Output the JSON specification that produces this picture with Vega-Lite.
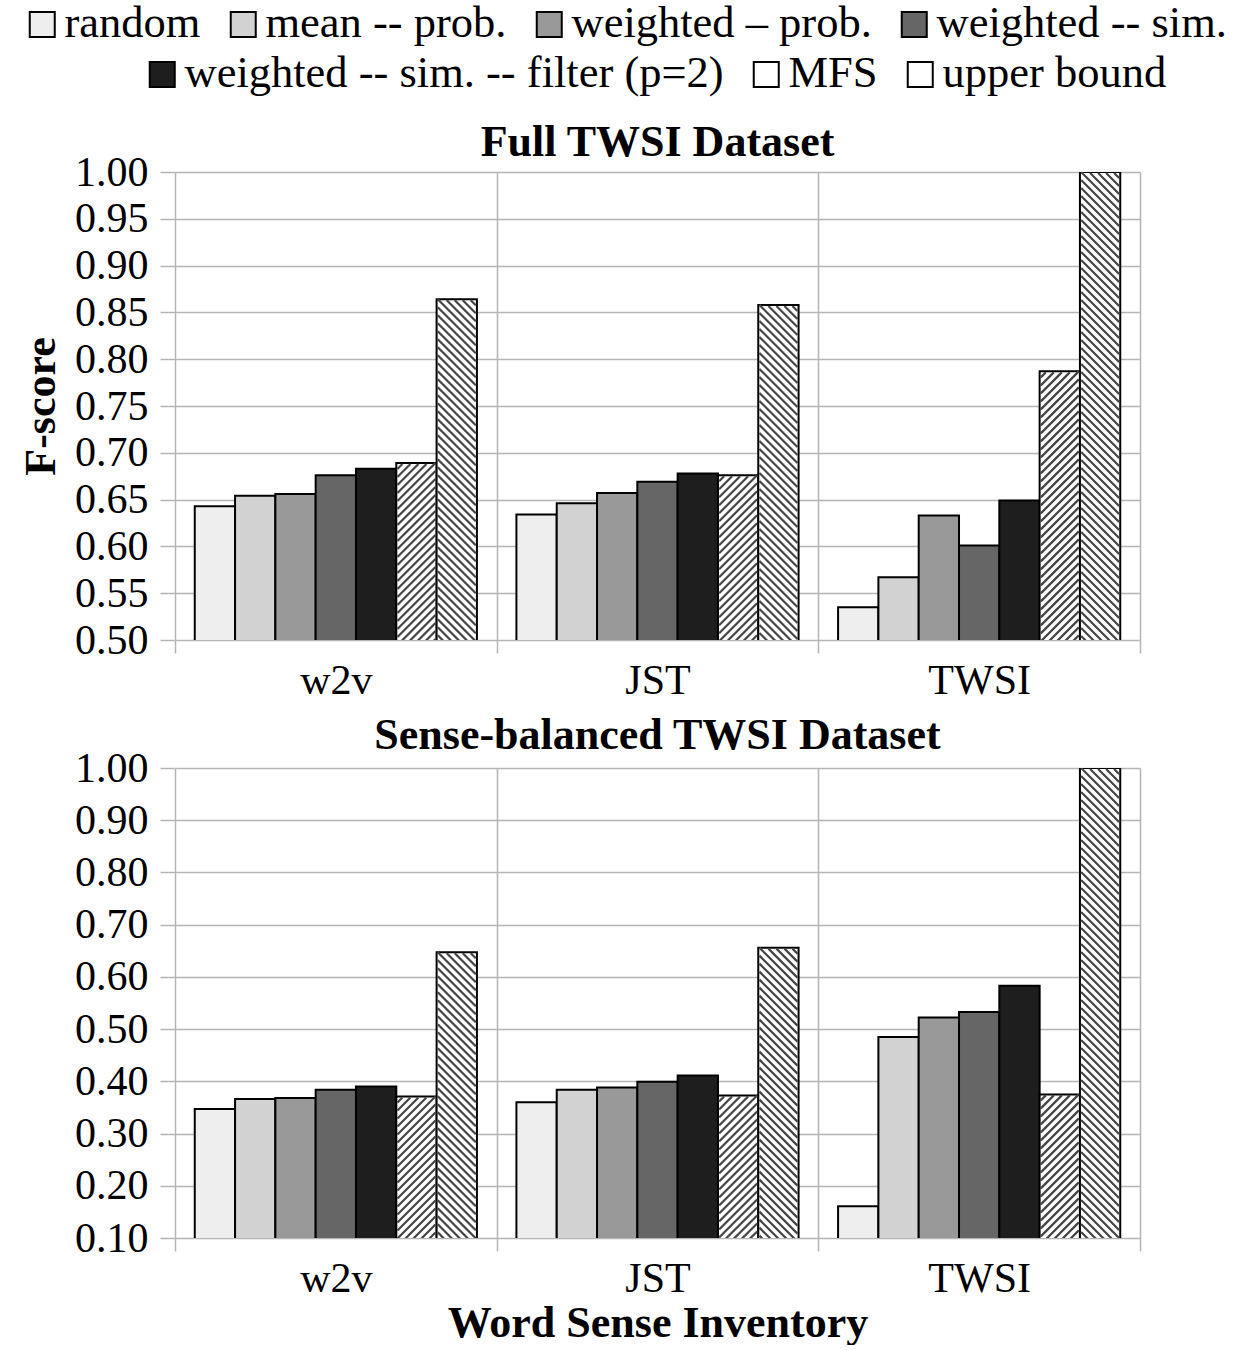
{
  "$schema": "https://vega.github.io/schema/vega-lite/v6.json",
  "background": "white",
  "padding": {"left": 19, "top": 2, "right": 10, "bottom": 0},
  "spacing": 13,
  "resolve": {"scale": {"xOffset": "independent"}},
  "data": {
    "values": [
      {"dataset": "Full", "inventory": "w2v", "series": "random", "fscore": 0.643},
      {"dataset": "Full", "inventory": "w2v", "series": "mean -- prob.", "fscore": 0.654},
      {"dataset": "Full", "inventory": "w2v", "series": "weighted – prob.", "fscore": 0.656},
      {"dataset": "Full", "inventory": "w2v", "series": "weighted -- sim.", "fscore": 0.676},
      {"dataset": "Full", "inventory": "w2v", "series": "weighted -- sim. -- filter (p=2)", "fscore": 0.683},
      {"dataset": "Full", "inventory": "w2v", "series": "MFS", "fscore": 0.689},
      {"dataset": "Full", "inventory": "w2v", "series": "upper bound", "fscore": 0.864},
      {"dataset": "Full", "inventory": "JST", "series": "random", "fscore": 0.634},
      {"dataset": "Full", "inventory": "JST", "series": "mean -- prob.", "fscore": 0.646},
      {"dataset": "Full", "inventory": "JST", "series": "weighted – prob.", "fscore": 0.657},
      {"dataset": "Full", "inventory": "JST", "series": "weighted -- sim.", "fscore": 0.669},
      {"dataset": "Full", "inventory": "JST", "series": "weighted -- sim. -- filter (p=2)", "fscore": 0.678},
      {"dataset": "Full", "inventory": "JST", "series": "MFS", "fscore": 0.676},
      {"dataset": "Full", "inventory": "JST", "series": "upper bound", "fscore": 0.858},
      {"dataset": "Full", "inventory": "TWSI", "series": "random", "fscore": 0.535},
      {"dataset": "Full", "inventory": "TWSI", "series": "mean -- prob.", "fscore": 0.567},
      {"dataset": "Full", "inventory": "TWSI", "series": "weighted – prob.", "fscore": 0.633},
      {"dataset": "Full", "inventory": "TWSI", "series": "weighted -- sim.", "fscore": 0.601},
      {"dataset": "Full", "inventory": "TWSI", "series": "weighted -- sim. -- filter (p=2)", "fscore": 0.649},
      {"dataset": "Full", "inventory": "TWSI", "series": "MFS", "fscore": 0.787},
      {"dataset": "Full", "inventory": "TWSI", "series": "upper bound", "fscore": 1.0},
      {"dataset": "Balanced", "inventory": "w2v", "series": "random", "fscore": 0.347},
      {"dataset": "Balanced", "inventory": "w2v", "series": "mean -- prob.", "fscore": 0.366},
      {"dataset": "Balanced", "inventory": "w2v", "series": "weighted – prob.", "fscore": 0.368},
      {"dataset": "Balanced", "inventory": "w2v", "series": "weighted -- sim.", "fscore": 0.384},
      {"dataset": "Balanced", "inventory": "w2v", "series": "weighted -- sim. -- filter (p=2)", "fscore": 0.39},
      {"dataset": "Balanced", "inventory": "w2v", "series": "MFS", "fscore": 0.371},
      {"dataset": "Balanced", "inventory": "w2v", "series": "upper bound", "fscore": 0.647},
      {"dataset": "Balanced", "inventory": "JST", "series": "random", "fscore": 0.36},
      {"dataset": "Balanced", "inventory": "JST", "series": "mean -- prob.", "fscore": 0.384},
      {"dataset": "Balanced", "inventory": "JST", "series": "weighted – prob.", "fscore": 0.388},
      {"dataset": "Balanced", "inventory": "JST", "series": "weighted -- sim.", "fscore": 0.399},
      {"dataset": "Balanced", "inventory": "JST", "series": "weighted -- sim. -- filter (p=2)", "fscore": 0.411},
      {"dataset": "Balanced", "inventory": "JST", "series": "MFS", "fscore": 0.373},
      {"dataset": "Balanced", "inventory": "JST", "series": "upper bound", "fscore": 0.656},
      {"dataset": "Balanced", "inventory": "TWSI", "series": "random", "fscore": 0.161},
      {"dataset": "Balanced", "inventory": "TWSI", "series": "mean -- prob.", "fscore": 0.485},
      {"dataset": "Balanced", "inventory": "TWSI", "series": "weighted – prob.", "fscore": 0.522},
      {"dataset": "Balanced", "inventory": "TWSI", "series": "weighted -- sim.", "fscore": 0.533},
      {"dataset": "Balanced", "inventory": "TWSI", "series": "weighted -- sim. -- filter (p=2)", "fscore": 0.583},
      {"dataset": "Balanced", "inventory": "TWSI", "series": "MFS", "fscore": 0.375},
      {"dataset": "Balanced", "inventory": "TWSI", "series": "upper bound", "fscore": 1.0}
    ]
  },
  "config": {
    "font": "Liberation Serif",
    "view": {"stroke": null},
    "axis": {
      "labelFont": "Liberation Serif", "labelFontSize": 42, "labelColor": "black",
      "gridColor": "#b5b5b5", "gridWidth": 1.5, "tickColor": "#b5b5b5", "tickWidth": 1.5,
      "domain": false,
      "titleFont": "Liberation Serif", "titleFontSize": 44, "titleFontWeight": "bold", "titleColor": "black"
    },
    "title": {"font": "Liberation Serif", "fontSize": 44, "fontWeight": "bold", "color": "black", "frame": "group", "baseline": "alphabetic"}
  },
  "vconcat": [
    {
      "title": {"text": "Full TWSI Dataset", "offset": -14},
      "width": 965,
      "height": 468,
      "transform": [{"filter": "datum.dataset === 'Full'"}],
      "encoding": {
        "x": {"field": "inventory", "type": "nominal",
          "scale": {"domain": ["w2v", "JST", "TWSI"], "paddingInner": 0, "paddingOuter": 0},
          "axis": {"title": null, "labelAngle": 0, "grid": true, "tickBand": "extent", "tickSize": 13, "labelPadding": 7}},
        "xOffset": {"field": "series", "type": "nominal",
          "scale": {"domain": ["random", "mean -- prob.", "weighted – prob.", "weighted -- sim.", "weighted -- sim. -- filter (p=2)", "MFS", "upper bound"], "paddingInner": 0, "paddingOuter": 0.49}},
        "y": {"field": "fscore", "type": "quantitative",
          "scale": {"domain": [0.5, 1.0], "zero": false, "nice": false},
          "axis": {"title": "F-score", "values": [0.5, 0.55, 0.6, 0.65, 0.7, 0.75, 0.8, 0.85, 0.9, 0.95, 1.0], "format": ".2f", "tickSize": 15, "labelPadding": 12, "titlePadding": 11}}
      },
      "layer": [
        {
          "transform": [{"filter": {"field": "series", "oneOf": ["random", "mean -- prob.", "weighted – prob.", "weighted -- sim."]}}],
          "mark": {"type": "bar", "stroke": "black", "strokeWidth": 2, "clip": true},
          "encoding": {
            "color": {"field": "series", "type": "nominal",
              "scale": {"domain": ["random", "mean -- prob.", "weighted – prob.", "weighted -- sim."], "range": ["#eeeeee", "#d2d2d2", "#999999", "#666666"]},
              "legend": {"title": null, "orient": "none", "legendX": -155, "legendY": -170, "direction": "horizontal", "symbolType": "square", "symbolSize": 625, "symbolStrokeColor": "black", "symbolStrokeWidth": 2, "labelFont": "Liberation Serif", "labelFontSize": 44.5, "labelColor": "black", "labelLimit": 1500, "columnPadding": 20, "labelOffset": 0}}
          }
        },
        {
          "transform": [{"filter": {"field": "series", "oneOf": ["weighted -- sim. -- filter (p=2)", "MFS", "upper bound"]}}],
          "mark": {"type": "bar", "stroke": "black", "strokeWidth": 2, "clip": true},
          "encoding": {
            "fill": {"field": "series", "type": "nominal",
              "scale": {"domain": ["weighted -- sim. -- filter (p=2)", "MFS", "upper bound"], "range": ["#1e1e1e", "#ffffff", "#ffffff"]},
              "legend": {"title": null, "orient": "none", "legendX": -35, "legendY": -120, "direction": "horizontal", "symbolType": "square", "symbolSize": 625, "symbolStrokeColor": "black", "symbolStrokeWidth": 2, "labelFont": "Liberation Serif", "labelFontSize": 44.5, "labelColor": "black", "labelLimit": 1500, "columnPadding": 20, "labelOffset": 0}}
          }
        },
        {
          "transform": [{"filter": "datum.series === 'MFS'"}],
          "mark": {"type": "point", "shape": "M-19,6L-14,1M-19,14L-6,1M-19,22L2,1M-19,30L10,1M-19,38l38,-38m-38,46l38,-38m-38,46l38,-38m-38,46l38,-38m-38,46l38,-38m-38,46l38,-38m-38,46l38,-38m-38,46l38,-38m-38,46l38,-38m-38,46l38,-38m-38,46l38,-38m-38,46l38,-38m-38,46l38,-38m-38,46l38,-38m-38,46l38,-38m-38,46l38,-38m-38,46l38,-38m-38,46l38,-38m-38,46l38,-38m-38,46l38,-38m-38,46l38,-38m-38,46l38,-38m-38,46l38,-38m-38,46l38,-38m-38,46l38,-38m-38,46l38,-38m-38,46l38,-38m-38,46l38,-38m-38,46l38,-38m-38,46l38,-38m-38,46l38,-38m-38,46l38,-38m-38,46l38,-38m-38,46l38,-38m-38,46l38,-38m-38,46l38,-38m-38,46l38,-38m-38,46l38,-38m-38,46l38,-38m-38,46l38,-38m-38,46l38,-38m-38,46l38,-38m-38,46l38,-38m-38,46l38,-38m-38,46l38,-38m-38,46l38,-38m-38,46l38,-38m-38,46l38,-38m-38,46l38,-38m-38,46l38,-38m-38,46l38,-38m-38,46l38,-38m-38,46l38,-38m-38,46l38,-38m-38,46l38,-38m-38,46l38,-38m-38,46l38,-38m-38,46l38,-38m-38,46l38,-38m-38,46l38,-38m-38,46l38,-38", "size": 4, "filled": false, "stroke": "#454545", "strokeWidth": 2.2, "opacity": 1, "clip": true}
        },
        {
          "transform": [{"filter": "datum.series === 'upper bound'"}],
          "mark": {"type": "point", "shape": "M19,6L14,1M19,14L6,1M19,22L-2,1M19,30L-10,1M19,38l-38,-38m38,46l-38,-38m38,46l-38,-38m38,46l-38,-38m38,46l-38,-38m38,46l-38,-38m38,46l-38,-38m38,46l-38,-38m38,46l-38,-38m38,46l-38,-38m38,46l-38,-38m38,46l-38,-38m38,46l-38,-38m38,46l-38,-38m38,46l-38,-38m38,46l-38,-38m38,46l-38,-38m38,46l-38,-38m38,46l-38,-38m38,46l-38,-38m38,46l-38,-38m38,46l-38,-38m38,46l-38,-38m38,46l-38,-38m38,46l-38,-38m38,46l-38,-38m38,46l-38,-38m38,46l-38,-38m38,46l-38,-38m38,46l-38,-38m38,46l-38,-38m38,46l-38,-38m38,46l-38,-38m38,46l-38,-38m38,46l-38,-38m38,46l-38,-38m38,46l-38,-38m38,46l-38,-38m38,46l-38,-38m38,46l-38,-38m38,46l-38,-38m38,46l-38,-38m38,46l-38,-38m38,46l-38,-38m38,46l-38,-38m38,46l-38,-38m38,46l-38,-38m38,46l-38,-38m38,46l-38,-38m38,46l-38,-38m38,46l-38,-38m38,46l-38,-38m38,46l-38,-38m38,46l-38,-38m38,46l-38,-38m38,46l-38,-38m38,46l-38,-38m38,46l-38,-38m38,46l-38,-38m38,46l-38,-38m38,46l-38,-38m38,46l-38,-38", "size": 4, "filled": false, "stroke": "#454545", "strokeWidth": 2.2, "opacity": 1, "clip": true}
        }
      ]
    },
    {
      "title": {"text": "Sense-balanced TWSI Dataset", "offset": -11},
      "width": 965,
      "height": 470,
      "transform": [{"filter": "datum.dataset === 'Balanced'"}],
      "encoding": {
        "x": {"field": "inventory", "type": "nominal",
          "scale": {"domain": ["w2v", "JST", "TWSI"], "paddingInner": 0, "paddingOuter": 0},
          "axis": {"title": "Word Sense Inventory", "labelAngle": 0, "grid": true, "tickBand": "extent", "tickSize": 13, "labelPadding": 7, "titlePadding": 2}},
        "xOffset": {"field": "series", "type": "nominal",
          "scale": {"domain": ["random", "mean -- prob.", "weighted – prob.", "weighted -- sim.", "weighted -- sim. -- filter (p=2)", "MFS", "upper bound"], "paddingInner": 0, "paddingOuter": 0.49}},
        "y": {"field": "fscore", "type": "quantitative",
          "scale": {"domain": [0.1, 1.0], "zero": false, "nice": false},
          "axis": {"title": null, "values": [0.1, 0.2, 0.3, 0.4, 0.5, 0.6, 0.7, 0.8, 0.9, 1.0], "format": ".2f", "tickSize": 15, "labelPadding": 12}}
      },
      "layer": [
        {
          "transform": [{"filter": {"field": "series", "oneOf": ["random", "mean -- prob.", "weighted – prob.", "weighted -- sim."]}}],
          "mark": {"type": "bar", "stroke": "black", "strokeWidth": 2, "clip": true},
          "encoding": {
            "color": {"field": "series", "type": "nominal",
              "scale": {"domain": ["random", "mean -- prob.", "weighted – prob.", "weighted -- sim."], "range": ["#eeeeee", "#d2d2d2", "#999999", "#666666"]}}
          }
        },
        {
          "transform": [{"filter": {"field": "series", "oneOf": ["weighted -- sim. -- filter (p=2)", "MFS", "upper bound"]}}],
          "mark": {"type": "bar", "stroke": "black", "strokeWidth": 2, "clip": true},
          "encoding": {
            "fill": {"field": "series", "type": "nominal",
              "scale": {"domain": ["weighted -- sim. -- filter (p=2)", "MFS", "upper bound"], "range": ["#1e1e1e", "#ffffff", "#ffffff"]}}
          }
        },
        {
          "transform": [{"filter": "datum.series === 'MFS'"}],
          "mark": {"type": "point", "shape": "M-19,6L-14,1M-19,14L-6,1M-19,22L2,1M-19,30L10,1M-19,38l38,-38m-38,46l38,-38m-38,46l38,-38m-38,46l38,-38m-38,46l38,-38m-38,46l38,-38m-38,46l38,-38m-38,46l38,-38m-38,46l38,-38m-38,46l38,-38m-38,46l38,-38m-38,46l38,-38m-38,46l38,-38m-38,46l38,-38m-38,46l38,-38m-38,46l38,-38m-38,46l38,-38m-38,46l38,-38m-38,46l38,-38m-38,46l38,-38m-38,46l38,-38m-38,46l38,-38m-38,46l38,-38m-38,46l38,-38m-38,46l38,-38m-38,46l38,-38m-38,46l38,-38m-38,46l38,-38m-38,46l38,-38m-38,46l38,-38m-38,46l38,-38m-38,46l38,-38m-38,46l38,-38m-38,46l38,-38m-38,46l38,-38m-38,46l38,-38m-38,46l38,-38m-38,46l38,-38m-38,46l38,-38m-38,46l38,-38m-38,46l38,-38m-38,46l38,-38m-38,46l38,-38m-38,46l38,-38m-38,46l38,-38m-38,46l38,-38m-38,46l38,-38m-38,46l38,-38m-38,46l38,-38m-38,46l38,-38m-38,46l38,-38m-38,46l38,-38m-38,46l38,-38m-38,46l38,-38m-38,46l38,-38m-38,46l38,-38m-38,46l38,-38m-38,46l38,-38m-38,46l38,-38m-38,46l38,-38m-38,46l38,-38m-38,46l38,-38", "size": 4, "filled": false, "stroke": "#454545", "strokeWidth": 2.2, "opacity": 1, "clip": true}
        },
        {
          "transform": [{"filter": "datum.series === 'upper bound'"}],
          "mark": {"type": "point", "shape": "M19,6L14,1M19,14L6,1M19,22L-2,1M19,30L-10,1M19,38l-38,-38m38,46l-38,-38m38,46l-38,-38m38,46l-38,-38m38,46l-38,-38m38,46l-38,-38m38,46l-38,-38m38,46l-38,-38m38,46l-38,-38m38,46l-38,-38m38,46l-38,-38m38,46l-38,-38m38,46l-38,-38m38,46l-38,-38m38,46l-38,-38m38,46l-38,-38m38,46l-38,-38m38,46l-38,-38m38,46l-38,-38m38,46l-38,-38m38,46l-38,-38m38,46l-38,-38m38,46l-38,-38m38,46l-38,-38m38,46l-38,-38m38,46l-38,-38m38,46l-38,-38m38,46l-38,-38m38,46l-38,-38m38,46l-38,-38m38,46l-38,-38m38,46l-38,-38m38,46l-38,-38m38,46l-38,-38m38,46l-38,-38m38,46l-38,-38m38,46l-38,-38m38,46l-38,-38m38,46l-38,-38m38,46l-38,-38m38,46l-38,-38m38,46l-38,-38m38,46l-38,-38m38,46l-38,-38m38,46l-38,-38m38,46l-38,-38m38,46l-38,-38m38,46l-38,-38m38,46l-38,-38m38,46l-38,-38m38,46l-38,-38m38,46l-38,-38m38,46l-38,-38m38,46l-38,-38m38,46l-38,-38m38,46l-38,-38m38,46l-38,-38m38,46l-38,-38m38,46l-38,-38m38,46l-38,-38m38,46l-38,-38m38,46l-38,-38", "size": 4, "filled": false, "stroke": "#454545", "strokeWidth": 2.2, "opacity": 1, "clip": true}
        }
      ]
    }
  ]
}
